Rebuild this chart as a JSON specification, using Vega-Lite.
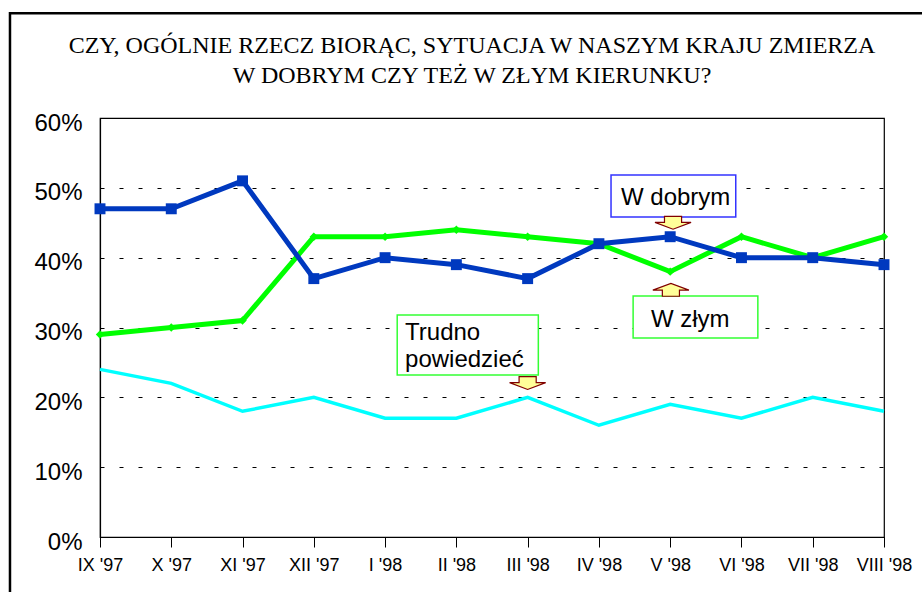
{
  "$schema": "https://vega.github.io/schema/vega-lite/v6.json",
  "width": 784,
  "height": 419,
  "autosize": "none",
  "padding": {"left": 100, "top": 118, "right": 38, "bottom": 55},
  "background": "white",
  "title": {
    "text": ["CZY, OGÓLNIE RZECZ BIORĄC, SYTUACJA W NASZYM KRAJU ZMIERZA", "W DOBRYM CZY TEŻ W ZŁYM KIERUNKU?"],
    "font": "Liberation Serif",
    "fontSize": 24,
    "fontWeight": "normal",
    "color": "#000000",
    "anchor": "middle",
    "frame": "group",
    "dx": -20,
    "lineHeight": 30,
    "offset": -76
  },
  "config": {
    "view": {"stroke": "#000000", "strokeWidth": 1.2},
    "axis": {"titleFont": "Liberation Sans"}
  },
  "datasets": {
    "series": [
      {"s": "dobrym", "i": 0, "v": 47}, {"s": "dobrym", "i": 1, "v": 47}, {"s": "dobrym", "i": 2, "v": 51},
      {"s": "dobrym", "i": 3, "v": 37}, {"s": "dobrym", "i": 4, "v": 40}, {"s": "dobrym", "i": 5, "v": 39},
      {"s": "dobrym", "i": 6, "v": 37}, {"s": "dobrym", "i": 7, "v": 42}, {"s": "dobrym", "i": 8, "v": 43},
      {"s": "dobrym", "i": 9, "v": 40}, {"s": "dobrym", "i": 10, "v": 40}, {"s": "dobrym", "i": 11, "v": 39},
      {"s": "zlym", "i": 0, "v": 29}, {"s": "zlym", "i": 1, "v": 30}, {"s": "zlym", "i": 2, "v": 31},
      {"s": "zlym", "i": 3, "v": 43}, {"s": "zlym", "i": 4, "v": 43}, {"s": "zlym", "i": 5, "v": 44},
      {"s": "zlym", "i": 6, "v": 43}, {"s": "zlym", "i": 7, "v": 42}, {"s": "zlym", "i": 8, "v": 38},
      {"s": "zlym", "i": 9, "v": 43}, {"s": "zlym", "i": 10, "v": 40}, {"s": "zlym", "i": 11, "v": 43},
      {"s": "trudno", "i": 0, "v": 24}, {"s": "trudno", "i": 1, "v": 22}, {"s": "trudno", "i": 2, "v": 18},
      {"s": "trudno", "i": 3, "v": 20}, {"s": "trudno", "i": 4, "v": 17}, {"s": "trudno", "i": 5, "v": 17},
      {"s": "trudno", "i": 6, "v": 20}, {"s": "trudno", "i": 7, "v": 16}, {"s": "trudno", "i": 8, "v": 19},
      {"s": "trudno", "i": 9, "v": 17}, {"s": "trudno", "i": 10, "v": 20}, {"s": "trudno", "i": 11, "v": 18}
    ],
    "boxes": [
      {"b": "dobrym", "x1": 7.17, "x2": 8.92, "y1": 51.84, "y2": 45.83},
      {"b": "zlym", "x1": 7.48, "x2": 9.23, "y1": 34.5, "y2": 28.5},
      {"b": "trudno", "x1": 4.17, "x2": 6.15, "y1": 31.8, "y2": 23.2}
    ],
    "labels": [
      {"t": "W dobrym", "i": 7.31, "v": 47.54},
      {"t": "W złym", "i": 7.73, "v": 30.07},
      {"t": "Trudno", "i": 4.28, "v": 28.2},
      {"t": "powiedzieć", "i": 4.28, "v": 24.34}
    ],
    "arrows": [
      {"d": "down", "i": 8.04, "v": 45.0},
      {"d": "up", "i": 8.01, "v": 35.4},
      {"d": "down", "i": 6.0, "v": 22.05}
    ],
    "frame": [
      {"x1": -1.263, "x2": 11.9, "y1": 75.0, "y2": -10}
    ]
  },
  "layer": [
    {
      "data": {"name": "series"},
      "transform": [{"filter": "datum.s === 'trudno'"}],
      "mark": {"type": "line", "color": "#00FFFF", "strokeWidth": 3.5},
      "encoding": {
        "x": {
          "field": "i", "type": "quantitative", "title": null,
          "scale": {"domain": [0, 11], "nice": false, "zero": false},
          "axis": {
            "values": [0, 1, 2, 3, 4, 5, 6, 7, 8, 9, 10, 11],
            "labelExpr": "['IX \\'97','X \\'97','XI \\'97','XII \\'97','I \\'98','II \\'98','III \\'98','IV \\'98','V \\'98','VI \\'98','VII \\'98','VIII \\'98'][datum.value]",
            "grid": false,
            "domainColor": "#000000",
            "domainWidth": 1.2,
            "tickColor": "#000000",
            "tickSize": 10,
            "tickWidth": 1,
            "labelFont": "Liberation Sans",
            "labelFontSize": 18,
            "labelColor": "#000000",
            "labelPadding": 9,
            "labelFlush": false,
            "labelOverlap": false
          }
        },
        "y": {
          "field": "v", "type": "quantitative", "title": null,
          "scale": {"domain": [0, 60], "nice": false},
          "axis": {
            "values": [0, 10, 20, 30, 40, 50, 60],
            "labelExpr": "datum.value + '%'",
            "ticks": false,
            "domainColor": "#000000",
            "domainWidth": 1.2,
            "grid": true,
            "gridColor": "#000000",
            "gridDash": [4, 15],
            "gridWidth": 1,
            "labelFont": "Liberation Sans",
            "labelFontSize": 24,
            "labelColor": "#000000",
            "labelPadding": 18,
            "labelOffset": 5
          }
        }
      }
    },
    {
      "data": {"name": "series"},
      "transform": [{"filter": "datum.s === 'zlym'"}],
      "mark": {"type": "line", "color": "#00FF00", "strokeWidth": 5},
      "encoding": {
        "x": {"field": "i", "type": "quantitative", "title": null},
        "y": {"field": "v", "type": "quantitative", "title": null}
      }
    },
    {
      "data": {"name": "series"},
      "transform": [{"filter": "datum.s === 'zlym'"}],
      "mark": {"type": "point", "shape": "diamond", "filled": true, "color": "#00FF00", "size": 70, "opacity": 1},
      "encoding": {
        "x": {"field": "i", "type": "quantitative", "title": null},
        "y": {"field": "v", "type": "quantitative", "title": null}
      }
    },
    {
      "data": {"name": "series"},
      "transform": [{"filter": "datum.s === 'dobrym'"}],
      "mark": {"type": "line", "color": "#0039BF", "strokeWidth": 5},
      "encoding": {
        "x": {"field": "i", "type": "quantitative", "title": null},
        "y": {"field": "v", "type": "quantitative", "title": null}
      }
    },
    {
      "data": {"name": "series"},
      "transform": [{"filter": "datum.s === 'dobrym'"}],
      "mark": {"type": "point", "shape": "square", "filled": true, "color": "#0039BF", "size": 120, "opacity": 1},
      "encoding": {
        "x": {"field": "i", "type": "quantitative", "title": null},
        "y": {"field": "v", "type": "quantitative", "title": null}
      }
    },
    {
      "data": {"name": "boxes"},
      "mark": {"type": "rect", "fill": "#FFFFFF", "strokeWidth": 1.5, "clip": false},
      "encoding": {
        "x": {"field": "x1", "type": "quantitative", "title": null},
        "x2": {"field": "x2"},
        "y": {"field": "y1", "type": "quantitative", "title": null},
        "y2": {"field": "y2"},
        "stroke": {
          "field": "b", "type": "nominal", "legend": null,
          "scale": {"domain": ["dobrym", "zlym", "trudno"], "range": ["#3333FF", "#33FF33", "#33FF33"]}
        }
      }
    },
    {
      "data": {"name": "labels"},
      "mark": {"type": "text", "align": "left", "baseline": "alphabetic", "font": "Liberation Sans", "fontSize": 24, "color": "#000000"},
      "encoding": {
        "x": {"field": "i", "type": "quantitative", "title": null},
        "y": {"field": "v", "type": "quantitative", "title": null},
        "text": {"field": "t"}
      }
    },
    {
      "data": {"name": "arrows"},
      "mark": {"type": "point", "filled": true, "fill": "#FFFF99", "stroke": "#800000", "strokeWidth": 1.2, "size": 1444, "opacity": 1},
      "encoding": {
        "x": {"field": "i", "type": "quantitative", "title": null},
        "y": {"field": "v", "type": "quantitative", "title": null},
        "shape": {
          "field": "d", "type": "nominal", "legend": null,
          "scale": {
            "domain": ["down", "up"],
            "range": [
              "M-0.45,-0.34L0.45,-0.34L0.45,-0.02L0.95,-0.02L0,0.34L-0.95,-0.02L-0.45,-0.02Z",
              "M-0.45,0.34L0.45,0.34L0.45,0.02L0.95,0.02L0,-0.34L-0.95,0.02L-0.45,0.02Z"
            ]
          }
        }
      }
    },
    {
      "data": {"name": "frame"},
      "mark": {"type": "rect", "fillOpacity": 0, "stroke": "#000000", "strokeWidth": 2.5, "clip": false},
      "encoding": {
        "x": {"field": "x1", "type": "quantitative", "title": null},
        "x2": {"field": "x2"},
        "y": {"field": "y1", "type": "quantitative", "title": null},
        "y2": {"field": "y2"}
      }
    }
  ]
}
